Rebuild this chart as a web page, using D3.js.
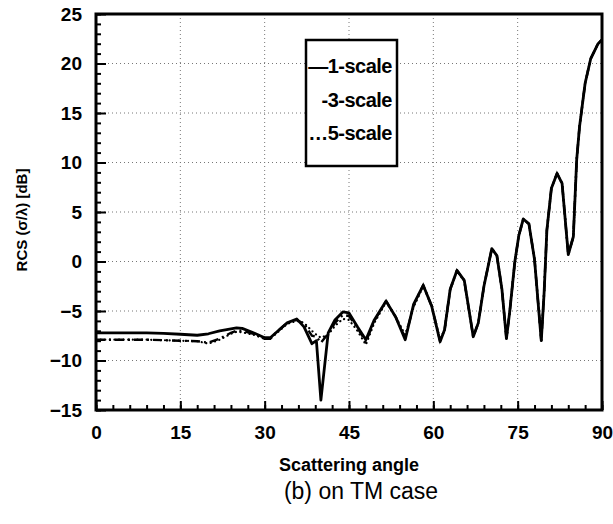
<!DOCTYPE html>
<html>
<head>
<meta charset="utf-8">
<script src="https://cdn.jsdelivr.net/npm/d3@7"></script>
<style>
  body { margin: 0; background: #fff; }
  text { font-family: "Liberation Sans", Arial, sans-serif; }
</style>
</head>
<body>
<div id="chart"></div>
<script>
// scattering angle (deg)
let angles = [0, 3, 6, 9, 12, 15, 18, 20, 22, 24, 25, 26, 28, 30, 31, 32, 34, 35.7, 37, 38.4, 39.2, 40, 41.3, 42.5, 43.9, 45,
  46.5, 48, 49.5, 51.6, 53.3, 55, 56.5, 58.2, 59.7, 61.2, 62, 63, 64.2, 65.5, 67.1, 68, 69, 70.4, 71.3, 72.2, 73, 73.6,
  74.5, 75.2, 76, 77, 78, 79.2, 79.7, 80.2, 81, 82, 82.9, 84, 84.9, 85.5, 86, 87, 88, 89.3, 90]

// RCS [dB]
let scale1 = [-7.2, -7.2, -7.2, -7.2, -7.25, -7.35, -7.45, -7.3, -7.0, -6.8, -6.7, -6.75, -7.2, -7.7, -7.7, -7.2, -6.2, -5.8, -6.6, -8.3, -8.0, -14.0, -7.2, -5.9, -5.1, -5.2,
  -6.6, -7.9, -5.9, -4.0, -5.6, -7.9, -4.3, -2.4, -4.5, -8.1, -6.9, -2.8, -0.9, -1.9, -7.6, -6.2, -2.5, 1.3, 0.6, -2.8, -7.8, -5.0,
  0.0, 2.6, 4.3, 3.8, 0.2, -8.0, -3.2, 3.2, 7.4, 8.9, 7.9, 0.7, 2.5, 10.3, 13.6, 18.0, 20.5, 22.0, 22.4]

let scale3 = [-7.9, -7.9, -7.9, -7.9, -7.95, -8.0, -8.05, -8.2, -7.8, -7.2, -7.0, -7.0, -7.3, -7.8, -7.8, -7.2, -6.2, -5.9, -6.3, -7.5, -7.6, -8.2, -7.3, -6.2, -5.4, -5.5,
  -6.7, -8.1, -6.0, -4.0, -5.6, -7.7, -4.4, -2.4, -4.5, -8.0, -6.9, -2.8, -0.9, -1.9, -7.6, -6.2, -2.5, 1.3, 0.6, -2.8, -7.8, -5.0,
  0.0, 2.6, 4.3, 3.8, 0.2, -8.0, -3.2, 3.2, 7.4, 8.9, 7.9, 0.7, 2.5, 10.3, 13.6, 18.0, 20.5, 22.0, 22.4]

let scale5 = [-7.9, -7.9, -7.9, -7.9, -7.95, -8.0, -8.05, -8.3, -7.9, -7.3, -7.1, -7.15, -7.4, -7.8, -7.8, -7.3, -6.3, -6.0, -6.2, -7.0, -7.4, -7.7, -7.4, -6.5, -5.8, -5.9,
  -7.0, -8.4, -6.2, -4.1, -5.6, -7.4, -4.6, -2.5, -4.4, -7.9, -7.0, -2.9, -0.9, -2.0, -7.5, -6.2, -2.5, 1.3, 0.6, -2.8, -7.8, -5.0,
  0.0, 2.6, 4.3, 3.8, 0.2, -8.0, -3.2, 3.2, 7.4, 8.9, 7.9, 0.7, 2.5, 10.3, 13.6, 18.0, 20.5, 22.0, 22.4]

let xTicks = [0, 15, 30, 45, 60, 75, 90]
let yTicks = [-15, -10, -5, 0, 5, 10, 15, 20, 25]
let legendLabels = ["\u20141-scale", "-3-scale", "\u20265-scale"]

let width = 613, height = 524
let margin = { top: 14, right: 11, bottom: 114, left: 96 }

let svg = d3.select("#chart").append("svg")
  .attr("width", width)
  .attr("height", height)

let x = d3.scaleLinear().domain([0, 90]).range([margin.left, width - margin.right])
let y = d3.scaleLinear().domain([-15, 25]).range([height - margin.bottom, margin.top])

// dotted grid
svg.append("g")
  .selectAll("line.gx")
  .data(xTicks.slice(1, -1))
  .enter().append("line")
  .attr("x1", d => x(d)).attr("x2", d => x(d))
  .attr("y1", y(25)).attr("y2", y(-15))
  .attr("stroke", "#777").attr("stroke-width", 1).attr("stroke-dasharray", "1,3")

svg.append("g")
  .selectAll("line.gy")
  .data(yTicks.slice(1, -1))
  .enter().append("line")
  .attr("x1", x(0)).attr("x2", x(90))
  .attr("y1", d => y(d)).attr("y2", d => y(d))
  .attr("stroke", "#777").attr("stroke-width", 1).attr("stroke-dasharray", "1,3")

// axes, ticks pointing inward
let styleAxis = g => {
  g.select(".domain").remove()
  g.selectAll("line").attr("stroke", "#000").attr("stroke-width", 2)
}

svg.append("g")
  .attr("transform", "translate(0," + y(-15) + ")")
  .call(d3.axisBottom(x).tickValues(d3.range(0, 91, 3)).tickSize(-5).tickFormat(""))
  .call(styleAxis)

svg.append("g")
  .attr("transform", "translate(0," + y(-15) + ")")
  .call(d3.axisBottom(x).tickValues(xTicks).tickSize(-9).tickPadding(16))
  .call(styleAxis)
  .selectAll("text")
  .attr("font-size", "19px").attr("font-weight", "bold").attr("fill", "#000")
  .attr("font-family", "Liberation Sans, Arial, sans-serif")

svg.append("g")
  .attr("transform", "translate(" + x(0) + ",0)")
  .call(d3.axisLeft(y).tickValues(d3.range(-15, 26, 1)).tickSize(-5).tickFormat(""))
  .call(styleAxis)

svg.append("g")
  .attr("transform", "translate(" + x(0) + ",0)")
  .call(d3.axisLeft(y).tickValues(yTicks).tickSize(-10).tickPadding(14))
  .call(styleAxis)
  .selectAll("text")
  .attr("font-size", "19px").attr("font-weight", "bold").attr("fill", "#000")
  .attr("font-family", "Liberation Sans, Arial, sans-serif")

// curves
let line = values => d3.line()
  .x((d, i) => x(angles[i]))
  .y(d => y(d))(values)

svg.append("path")
  .attr("d", line(scale5))
  .attr("fill", "none").attr("stroke", "#000").attr("stroke-width", 2.2)
  .attr("stroke-linecap", "round").attr("stroke-dasharray", "0.1,4.5")

svg.append("path")
  .attr("d", line(scale3))
  .attr("fill", "none").attr("stroke", "#000").attr("stroke-width", 2.4)
  .attr("stroke-dasharray", "9,4,2,4")

svg.append("path")
  .attr("d", line(scale1))
  .attr("fill", "none").attr("stroke", "#000").attr("stroke-width", 2.8)
  .attr("stroke-linejoin", "round")

// frame
svg.append("rect")
  .attr("x", x(0)).attr("y", y(25))
  .attr("width", x(90) - x(0)).attr("height", y(-15) - y(25))
  .attr("fill", "none").attr("stroke", "#000").attr("stroke-width", 3)

// legend
let legend = svg.append("g")
legend.append("rect")
  .attr("x", 306).attr("y", 40).attr("width", 91).attr("height", 126)
  .attr("fill", "#fff").attr("stroke", "#000").attr("stroke-width", 2.5)

legend.selectAll("text")
  .data(legendLabels)
  .enter().append("text")
  .attr("x", 392)
  .attr("y", (d, i) => 73 + i * 33.5)
  .attr("text-anchor", "end")
  .attr("font-size", "20px").attr("font-weight", "bold")
  .attr("letter-spacing", "-0.5px")
  .text(d => d)

// labels
svg.append("text")
  .attr("transform", "translate(27," + 220 + ") rotate(-90)")
  .attr("text-anchor", "middle")
  .attr("font-size", "15px").attr("font-weight", "bold")
  .text("RCS (\u03c3/\u03bb) [dB]")

svg.append("text")
  .attr("x", 349).attr("y", 471)
  .attr("text-anchor", "middle")
  .attr("font-size", "18px").attr("font-weight", "bold")
  .text("Scattering angle")

svg.append("text")
  .attr("x", 361).attr("y", 499)
  .attr("text-anchor", "middle")
  .attr("font-size", "23px")
  .text("(b) on TM case")
</script>
</body>
</html>
